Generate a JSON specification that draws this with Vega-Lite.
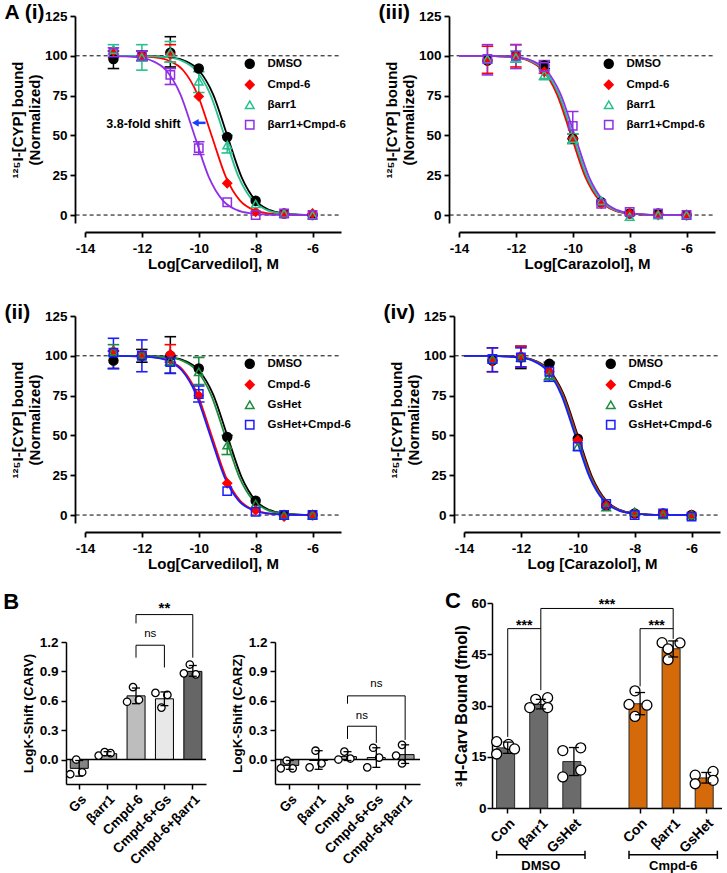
{
"$schema": "https://vega.github.io/schema/vega-lite/v6.json",
"background": "white",
"padding": {"left": 3, "top": 2, "right": 0, "bottom": 0},
"datasets": {
"pts": [
{"p":"i","s":"DMSO","x":-13,"y":98,"lo":92,"hi":103},
{"p":"i","s":"DMSO","x":-12,"y":100,"lo":97,"hi":103},
{"p":"i","s":"DMSO","x":-11,"y":102,"lo":93,"hi":112},
{"p":"i","s":"DMSO","x":-10,"y":92},
{"p":"i","s":"DMSO","x":-9,"y":49},
{"p":"i","s":"DMSO","x":-8,"y":9},
{"p":"i","s":"DMSO","x":-7,"y":1},
{"p":"i","s":"DMSO","x":-6,"y":0},
{"p":"i","s":"Cmpd-6","x":-13,"y":103},
{"p":"i","s":"Cmpd-6","x":-12,"y":100},
{"p":"i","s":"Cmpd-6","x":-11,"y":101,"lo":96,"hi":107},
{"p":"i","s":"Cmpd-6","x":-10,"y":74.5},
{"p":"i","s":"Cmpd-6","x":-9,"y":20},
{"p":"i","s":"Cmpd-6","x":-8,"y":2},
{"p":"i","s":"Cmpd-6","x":-7,"y":1},
{"p":"i","s":"Cmpd-6","x":-6,"y":1},
{"p":"i","s":"βarr1","x":-13,"y":104,"lo":101,"hi":107},
{"p":"i","s":"βarr1","x":-12,"y":99,"lo":91,"hi":107},
{"p":"i","s":"βarr1","x":-11,"y":102,"lo":96,"hi":109},
{"p":"i","s":"βarr1","x":-10,"y":84,"lo":77,"hi":90},
{"p":"i","s":"βarr1","x":-9,"y":44,"lo":39,"hi":50},
{"p":"i","s":"βarr1","x":-8,"y":7},
{"p":"i","s":"βarr1","x":-7,"y":1},
{"p":"i","s":"βarr1","x":-6,"y":0},
{"p":"i","s":"βarr1+Cmpd-6","x":-13,"y":102,"lo":99,"hi":105},
{"p":"i","s":"βarr1+Cmpd-6","x":-12,"y":100,"lo":97,"hi":103},
{"p":"i","s":"βarr1+Cmpd-6","x":-11,"y":88,"lo":82,"hi":92},
{"p":"i","s":"βarr1+Cmpd-6","x":-10,"y":42,"lo":38,"hi":46},
{"p":"i","s":"βarr1+Cmpd-6","x":-9,"y":8},
{"p":"i","s":"βarr1+Cmpd-6","x":-8,"y":0},
{"p":"i","s":"βarr1+Cmpd-6","x":-7,"y":1},
{"p":"i","s":"βarr1+Cmpd-6","x":-6,"y":0},
{"p":"iii","s":"DMSO","x":-13,"y":97},
{"p":"iii","s":"DMSO","x":-12,"y":100},
{"p":"iii","s":"DMSO","x":-11,"y":94,"lo":92,"hi":96},
{"p":"iii","s":"DMSO","x":-10,"y":48},
{"p":"iii","s":"DMSO","x":-9,"y":8},
{"p":"iii","s":"DMSO","x":-8,"y":1},
{"p":"iii","s":"DMSO","x":-7,"y":1},
{"p":"iii","s":"DMSO","x":-6,"y":0},
{"p":"iii","s":"Cmpd-6","x":-13,"y":97,"lo":89,"hi":106},
{"p":"iii","s":"Cmpd-6","x":-12,"y":100,"lo":93,"hi":107},
{"p":"iii","s":"Cmpd-6","x":-11,"y":90},
{"p":"iii","s":"Cmpd-6","x":-10,"y":48,"lo":45,"hi":51},
{"p":"iii","s":"Cmpd-6","x":-9,"y":7},
{"p":"iii","s":"Cmpd-6","x":-8,"y":1},
{"p":"iii","s":"Cmpd-6","x":-7,"y":0},
{"p":"iii","s":"Cmpd-6","x":-6,"y":0},
{"p":"iii","s":"βarr1","x":-13,"y":98},
{"p":"iii","s":"βarr1","x":-12,"y":99,"lo":96,"hi":103},
{"p":"iii","s":"βarr1","x":-11,"y":88,"lo":85,"hi":91},
{"p":"iii","s":"βarr1","x":-10,"y":48,"lo":45,"hi":51},
{"p":"iii","s":"βarr1","x":-9,"y":9},
{"p":"iii","s":"βarr1","x":-8,"y":-1},
{"p":"iii","s":"βarr1","x":-7,"y":0},
{"p":"iii","s":"βarr1","x":-6,"y":0},
{"p":"iii","s":"βarr1+Cmpd-6","x":-13,"y":98,"lo":88,"hi":107},
{"p":"iii","s":"βarr1+Cmpd-6","x":-12,"y":100,"lo":92,"hi":107},
{"p":"iii","s":"βarr1+Cmpd-6","x":-11,"y":93,"lo":89,"hi":97},
{"p":"iii","s":"βarr1+Cmpd-6","x":-10,"y":56,"lo":48,"hi":65},
{"p":"iii","s":"βarr1+Cmpd-6","x":-9,"y":7},
{"p":"iii","s":"βarr1+Cmpd-6","x":-8,"y":2},
{"p":"iii","s":"βarr1+Cmpd-6","x":-7,"y":1},
{"p":"iii","s":"βarr1+Cmpd-6","x":-6,"y":0},
{"p":"ii","s":"DMSO","x":-13,"y":97,"lo":92,"hi":103},
{"p":"ii","s":"DMSO","x":-12,"y":100,"lo":96,"hi":104},
{"p":"ii","s":"DMSO","x":-11,"y":100,"lo":89,"hi":112},
{"p":"ii","s":"DMSO","x":-10,"y":92},
{"p":"ii","s":"DMSO","x":-9,"y":49},
{"p":"ii","s":"DMSO","x":-8,"y":9},
{"p":"ii","s":"DMSO","x":-7,"y":0},
{"p":"ii","s":"DMSO","x":-6,"y":0},
{"p":"ii","s":"Cmpd-6","x":-13,"y":103},
{"p":"ii","s":"Cmpd-6","x":-12,"y":101},
{"p":"ii","s":"Cmpd-6","x":-11,"y":101,"lo":96,"hi":107},
{"p":"ii","s":"Cmpd-6","x":-10,"y":75},
{"p":"ii","s":"Cmpd-6","x":-9,"y":20},
{"p":"ii","s":"Cmpd-6","x":-8,"y":3},
{"p":"ii","s":"Cmpd-6","x":-7,"y":-1},
{"p":"ii","s":"Cmpd-6","x":-6,"y":0},
{"p":"ii","s":"GsHet","x":-13,"y":103,"lo":100,"hi":107},
{"p":"ii","s":"GsHet","x":-12,"y":101},
{"p":"ii","s":"GsHet","x":-11,"y":97,"lo":94,"hi":100},
{"p":"ii","s":"GsHet","x":-10,"y":90,"lo":82,"hi":99},
{"p":"ii","s":"GsHet","x":-9,"y":44,"lo":38,"hi":50},
{"p":"ii","s":"GsHet","x":-8,"y":7},
{"p":"ii","s":"GsHet","x":-7,"y":0},
{"p":"ii","s":"GsHet","x":-6,"y":0},
{"p":"ii","s":"GsHet+Cmpd-6","x":-13,"y":102,"lo":92,"hi":111},
{"p":"ii","s":"GsHet+Cmpd-6","x":-12,"y":100,"lo":90,"hi":110},
{"p":"ii","s":"GsHet+Cmpd-6","x":-11,"y":96,"lo":89,"hi":100},
{"p":"ii","s":"GsHet+Cmpd-6","x":-10,"y":76,"lo":71,"hi":81},
{"p":"ii","s":"GsHet+Cmpd-6","x":-9,"y":15},
{"p":"ii","s":"GsHet+Cmpd-6","x":-8,"y":2},
{"p":"ii","s":"GsHet+Cmpd-6","x":-7,"y":0},
{"p":"ii","s":"GsHet+Cmpd-6","x":-6,"y":0},
{"p":"iv","s":"DMSO","x":-13,"y":97},
{"p":"iv","s":"DMSO","x":-12,"y":99,"lo":92,"hi":106},
{"p":"iv","s":"DMSO","x":-11,"y":95},
{"p":"iv","s":"DMSO","x":-10,"y":48},
{"p":"iv","s":"DMSO","x":-9,"y":6},
{"p":"iv","s":"DMSO","x":-8,"y":1},
{"p":"iv","s":"DMSO","x":-7,"y":1},
{"p":"iv","s":"DMSO","x":-6,"y":0},
{"p":"iv","s":"Cmpd-6","x":-13,"y":97,"lo":90,"hi":105},
{"p":"iv","s":"Cmpd-6","x":-12,"y":100,"lo":93,"hi":106},
{"p":"iv","s":"Cmpd-6","x":-11,"y":90},
{"p":"iv","s":"Cmpd-6","x":-10,"y":47},
{"p":"iv","s":"Cmpd-6","x":-9,"y":6},
{"p":"iv","s":"Cmpd-6","x":-8,"y":1},
{"p":"iv","s":"Cmpd-6","x":-7,"y":1},
{"p":"iv","s":"Cmpd-6","x":-6,"y":0},
{"p":"iv","s":"GsHet","x":-13,"y":98},
{"p":"iv","s":"GsHet","x":-12,"y":99},
{"p":"iv","s":"GsHet","x":-11,"y":88,"lo":85,"hi":95},
{"p":"iv","s":"GsHet","x":-10,"y":43},
{"p":"iv","s":"GsHet","x":-9,"y":5},
{"p":"iv","s":"GsHet","x":-8,"y":2},
{"p":"iv","s":"GsHet","x":-7,"y":0},
{"p":"iv","s":"GsHet","x":-6,"y":0},
{"p":"iv","s":"GsHet+Cmpd-6","x":-13,"y":98,"lo":90,"hi":105},
{"p":"iv","s":"GsHet+Cmpd-6","x":-12,"y":99,"lo":93,"hi":105},
{"p":"iv","s":"GsHet+Cmpd-6","x":-11,"y":90,"lo":84,"hi":96},
{"p":"iv","s":"GsHet+Cmpd-6","x":-10,"y":43},
{"p":"iv","s":"GsHet+Cmpd-6","x":-9,"y":7},
{"p":"iv","s":"GsHet+Cmpd-6","x":-8,"y":0},
{"p":"iv","s":"GsHet+Cmpd-6","x":-7,"y":1},
{"p":"iv","s":"GsHet+Cmpd-6","x":-6,"y":-1}
],
"curves": [
{"p":"i","s":"DMSO","x":-13,"y":100},{"p":"i","s":"DMSO","x":-12,"y":99.9},{"p":"i","s":"DMSO","x":-11.5,"y":99.68},{"p":"i","s":"DMSO","x":-11,"y":99.01},{"p":"i","s":"DMSO","x":-10.5,"y":96.93},{"p":"i","s":"DMSO","x":-10,"y":90.91},{"p":"i","s":"DMSO","x":-9.5,"y":75.97},{"p":"i","s":"DMSO","x":-9,"y":50},{"p":"i","s":"DMSO","x":-8.5,"y":24.03},{"p":"i","s":"DMSO","x":-8,"y":9.09},{"p":"i","s":"DMSO","x":-7.5,"y":3.07},{"p":"i","s":"DMSO","x":-7,"y":0.99},{"p":"i","s":"DMSO","x":-6.5,"y":0.32},{"p":"i","s":"DMSO","x":-6,"y":0.1},
{"p":"i","s":"Cmpd-6","x":-13,"y":99.96},{"p":"i","s":"Cmpd-6","x":-12.05,"y":99.68},{"p":"i","s":"Cmpd-6","x":-11.55,"y":99.01},{"p":"i","s":"Cmpd-6","x":-11.05,"y":96.93},{"p":"i","s":"Cmpd-6","x":-10.55,"y":90.91},{"p":"i","s":"Cmpd-6","x":-10.05,"y":75.97},{"p":"i","s":"Cmpd-6","x":-9.55,"y":50},{"p":"i","s":"Cmpd-6","x":-9.05,"y":24.03},{"p":"i","s":"Cmpd-6","x":-8.55,"y":9.09},{"p":"i","s":"Cmpd-6","x":-8.05,"y":3.07},{"p":"i","s":"Cmpd-6","x":-7.55,"y":0.99},{"p":"i","s":"Cmpd-6","x":-7.05,"y":0.32},{"p":"i","s":"Cmpd-6","x":-6.55,"y":0.1},{"p":"i","s":"Cmpd-6","x":-6,"y":0.03},
{"p":"i","s":"βarr1","x":-13,"y":99.99},{"p":"i","s":"βarr1","x":-12.1,"y":99.9},{"p":"i","s":"βarr1","x":-11.6,"y":99.68},{"p":"i","s":"βarr1","x":-11.1,"y":99.01},{"p":"i","s":"βarr1","x":-10.6,"y":96.93},{"p":"i","s":"βarr1","x":-10.1,"y":90.91},{"p":"i","s":"βarr1","x":-9.6,"y":75.97},{"p":"i","s":"βarr1","x":-9.1,"y":50},{"p":"i","s":"βarr1","x":-8.6,"y":24.03},{"p":"i","s":"βarr1","x":-8.1,"y":9.09},{"p":"i","s":"βarr1","x":-7.6,"y":3.07},{"p":"i","s":"βarr1","x":-7.1,"y":0.99},{"p":"i","s":"βarr1","x":-6.6,"y":0.32},{"p":"i","s":"βarr1","x":-6,"y":0.08},
{"p":"i","s":"βarr1+Cmpd-6","x":-13,"y":99.86},{"p":"i","s":"βarr1+Cmpd-6","x":-12.65,"y":99.68},{"p":"i","s":"βarr1+Cmpd-6","x":-12.15,"y":99.01},{"p":"i","s":"βarr1+Cmpd-6","x":-11.65,"y":96.93},{"p":"i","s":"βarr1+Cmpd-6","x":-11.15,"y":90.91},{"p":"i","s":"βarr1+Cmpd-6","x":-10.65,"y":75.97},{"p":"i","s":"βarr1+Cmpd-6","x":-10.15,"y":50},{"p":"i","s":"βarr1+Cmpd-6","x":-9.65,"y":24.03},{"p":"i","s":"βarr1+Cmpd-6","x":-9.15,"y":9.09},{"p":"i","s":"βarr1+Cmpd-6","x":-8.65,"y":3.07},{"p":"i","s":"βarr1+Cmpd-6","x":-8.15,"y":0.99},{"p":"i","s":"βarr1+Cmpd-6","x":-7.65,"y":0.32},{"p":"i","s":"βarr1+Cmpd-6","x":-7.15,"y":0.1},{"p":"i","s":"βarr1+Cmpd-6","x":-6,"y":0.01},
{"p":"ii","s":"DMSO","x":-13,"y":100},{"p":"ii","s":"DMSO","x":-12,"y":99.9},{"p":"ii","s":"DMSO","x":-11.5,"y":99.68},{"p":"ii","s":"DMSO","x":-11,"y":99.01},{"p":"ii","s":"DMSO","x":-10.5,"y":96.93},{"p":"ii","s":"DMSO","x":-10,"y":90.91},{"p":"ii","s":"DMSO","x":-9.5,"y":75.97},{"p":"ii","s":"DMSO","x":-9,"y":50},{"p":"ii","s":"DMSO","x":-8.5,"y":24.03},{"p":"ii","s":"DMSO","x":-8,"y":9.09},{"p":"ii","s":"DMSO","x":-7.5,"y":3.07},{"p":"ii","s":"DMSO","x":-7,"y":0.99},{"p":"ii","s":"DMSO","x":-6.5,"y":0.32},{"p":"ii","s":"DMSO","x":-6,"y":0.1},
{"p":"ii","s":"Cmpd-6","x":-13,"y":99.96},{"p":"ii","s":"Cmpd-6","x":-12.05,"y":99.68},{"p":"ii","s":"Cmpd-6","x":-11.55,"y":99.01},{"p":"ii","s":"Cmpd-6","x":-11.05,"y":96.93},{"p":"ii","s":"Cmpd-6","x":-10.55,"y":90.91},{"p":"ii","s":"Cmpd-6","x":-10.05,"y":75.97},{"p":"ii","s":"Cmpd-6","x":-9.55,"y":50},{"p":"ii","s":"Cmpd-6","x":-9.05,"y":24.03},{"p":"ii","s":"Cmpd-6","x":-8.55,"y":9.09},{"p":"ii","s":"Cmpd-6","x":-8.05,"y":3.07},{"p":"ii","s":"Cmpd-6","x":-7.55,"y":0.99},{"p":"ii","s":"Cmpd-6","x":-7.05,"y":0.32},{"p":"ii","s":"Cmpd-6","x":-6.55,"y":0.1},{"p":"ii","s":"Cmpd-6","x":-6,"y":0.03},
{"p":"ii","s":"GsHet","x":-13,"y":99.99},{"p":"ii","s":"GsHet","x":-12.08,"y":99.9},{"p":"ii","s":"GsHet","x":-11.58,"y":99.68},{"p":"ii","s":"GsHet","x":-11.08,"y":99.01},{"p":"ii","s":"GsHet","x":-10.58,"y":96.93},{"p":"ii","s":"GsHet","x":-10.08,"y":90.91},{"p":"ii","s":"GsHet","x":-9.58,"y":75.97},{"p":"ii","s":"GsHet","x":-9.08,"y":50},{"p":"ii","s":"GsHet","x":-8.58,"y":24.03},{"p":"ii","s":"GsHet","x":-8.08,"y":9.09},{"p":"ii","s":"GsHet","x":-7.58,"y":3.07},{"p":"ii","s":"GsHet","x":-7.08,"y":0.99},{"p":"ii","s":"GsHet","x":-6.58,"y":0.32},{"p":"ii","s":"GsHet","x":-6,"y":0.08},
{"p":"ii","s":"GsHet+Cmpd-6","x":-13,"y":99.96},{"p":"ii","s":"GsHet+Cmpd-6","x":-12.1,"y":99.68},{"p":"ii","s":"GsHet+Cmpd-6","x":-11.6,"y":99.01},{"p":"ii","s":"GsHet+Cmpd-6","x":-11.1,"y":96.93},{"p":"ii","s":"GsHet+Cmpd-6","x":-10.6,"y":90.91},{"p":"ii","s":"GsHet+Cmpd-6","x":-10.1,"y":75.97},{"p":"ii","s":"GsHet+Cmpd-6","x":-9.6,"y":50},{"p":"ii","s":"GsHet+Cmpd-6","x":-9.1,"y":24.03},{"p":"ii","s":"GsHet+Cmpd-6","x":-8.6,"y":9.09},{"p":"ii","s":"GsHet+Cmpd-6","x":-8.1,"y":3.07},{"p":"ii","s":"GsHet+Cmpd-6","x":-7.6,"y":0.99},{"p":"ii","s":"GsHet+Cmpd-6","x":-7.1,"y":0.32},{"p":"ii","s":"GsHet+Cmpd-6","x":-6.6,"y":0.1},{"p":"ii","s":"GsHet+Cmpd-6","x":-6,"y":0.03},
{"p":"iii","s":"DMSO","x":-14,"y":99.99},{"p":"iii","s":"DMSO","x":-13,"y":99.9},{"p":"iii","s":"DMSO","x":-12.52,"y":99.68},{"p":"iii","s":"DMSO","x":-12.02,"y":99.01},{"p":"iii","s":"DMSO","x":-11.52,"y":96.93},{"p":"iii","s":"DMSO","x":-11.02,"y":90.91},{"p":"iii","s":"DMSO","x":-10.52,"y":75.97},{"p":"iii","s":"DMSO","x":-10.02,"y":50},{"p":"iii","s":"DMSO","x":-9.52,"y":24.03},{"p":"iii","s":"DMSO","x":-9.02,"y":9.09},{"p":"iii","s":"DMSO","x":-8.52,"y":3.07},{"p":"iii","s":"DMSO","x":-8.02,"y":0.99},{"p":"iii","s":"DMSO","x":-7.52,"y":0.32},{"p":"iii","s":"DMSO","x":-7.02,"y":0.1},{"p":"iii","s":"DMSO","x":-6,"y":0.01},
{"p":"iii","s":"Cmpd-6","x":-14,"y":99.99},{"p":"iii","s":"Cmpd-6","x":-13,"y":99.9},{"p":"iii","s":"Cmpd-6","x":-12.56,"y":99.68},{"p":"iii","s":"Cmpd-6","x":-12.06,"y":99.01},{"p":"iii","s":"Cmpd-6","x":-11.56,"y":96.93},{"p":"iii","s":"Cmpd-6","x":-11.06,"y":90.91},{"p":"iii","s":"Cmpd-6","x":-10.56,"y":75.97},{"p":"iii","s":"Cmpd-6","x":-10.06,"y":50},{"p":"iii","s":"Cmpd-6","x":-9.56,"y":24.03},{"p":"iii","s":"Cmpd-6","x":-9.06,"y":9.09},{"p":"iii","s":"Cmpd-6","x":-8.56,"y":3.07},{"p":"iii","s":"Cmpd-6","x":-8.06,"y":0.99},{"p":"iii","s":"Cmpd-6","x":-7.56,"y":0.32},{"p":"iii","s":"Cmpd-6","x":-7.06,"y":0.1},{"p":"iii","s":"Cmpd-6","x":-6,"y":0.01},
{"p":"iii","s":"βarr1","x":-14,"y":99.99},{"p":"iii","s":"βarr1","x":-13,"y":99.9},{"p":"iii","s":"βarr1","x":-12.5,"y":99.68},{"p":"iii","s":"βarr1","x":-12,"y":99.01},{"p":"iii","s":"βarr1","x":-11.5,"y":96.93},{"p":"iii","s":"βarr1","x":-11,"y":90.91},{"p":"iii","s":"βarr1","x":-10.5,"y":75.97},{"p":"iii","s":"βarr1","x":-10,"y":50},{"p":"iii","s":"βarr1","x":-9.5,"y":24.03},{"p":"iii","s":"βarr1","x":-9,"y":9.09},{"p":"iii","s":"βarr1","x":-8.5,"y":3.07},{"p":"iii","s":"βarr1","x":-8,"y":0.99},{"p":"iii","s":"βarr1","x":-7.5,"y":0.32},{"p":"iii","s":"βarr1","x":-7,"y":0.1},{"p":"iii","s":"βarr1","x":-6,"y":0.01},
{"p":"iii","s":"βarr1+Cmpd-6","x":-14,"y":99.99},{"p":"iii","s":"βarr1+Cmpd-6","x":-13,"y":99.91},{"p":"iii","s":"βarr1+Cmpd-6","x":-12.43,"y":99.68},{"p":"iii","s":"βarr1+Cmpd-6","x":-11.93,"y":99.01},{"p":"iii","s":"βarr1+Cmpd-6","x":-11.43,"y":96.93},{"p":"iii","s":"βarr1+Cmpd-6","x":-10.93,"y":90.91},{"p":"iii","s":"βarr1+Cmpd-6","x":-10.43,"y":75.97},{"p":"iii","s":"βarr1+Cmpd-6","x":-9.93,"y":50},{"p":"iii","s":"βarr1+Cmpd-6","x":-9.43,"y":24.03},{"p":"iii","s":"βarr1+Cmpd-6","x":-8.93,"y":9.09},{"p":"iii","s":"βarr1+Cmpd-6","x":-8.43,"y":3.07},{"p":"iii","s":"βarr1+Cmpd-6","x":-7.93,"y":0.99},{"p":"iii","s":"βarr1+Cmpd-6","x":-7.43,"y":0.32},{"p":"iii","s":"βarr1+Cmpd-6","x":-6.93,"y":0.1},{"p":"iii","s":"βarr1+Cmpd-6","x":-6,"y":0.01},
{"p":"iv","s":"DMSO","x":-14,"y":99.99},{"p":"iv","s":"DMSO","x":-13,"y":99.9},{"p":"iv","s":"DMSO","x":-12.5,"y":99.68},{"p":"iv","s":"DMSO","x":-12,"y":99.01},{"p":"iv","s":"DMSO","x":-11.5,"y":96.93},{"p":"iv","s":"DMSO","x":-11,"y":90.91},{"p":"iv","s":"DMSO","x":-10.5,"y":75.97},{"p":"iv","s":"DMSO","x":-10,"y":50},{"p":"iv","s":"DMSO","x":-9.5,"y":24.03},{"p":"iv","s":"DMSO","x":-9,"y":9.09},{"p":"iv","s":"DMSO","x":-8.5,"y":3.07},{"p":"iv","s":"DMSO","x":-8,"y":0.99},{"p":"iv","s":"DMSO","x":-7.5,"y":0.32},{"p":"iv","s":"DMSO","x":-7,"y":0.1},{"p":"iv","s":"DMSO","x":-6,"y":0.01},
{"p":"iv","s":"Cmpd-6","x":-14,"y":99.99},{"p":"iv","s":"Cmpd-6","x":-13,"y":99.9},{"p":"iv","s":"Cmpd-6","x":-12.53,"y":99.68},{"p":"iv","s":"Cmpd-6","x":-12.03,"y":99.01},{"p":"iv","s":"Cmpd-6","x":-11.53,"y":96.93},{"p":"iv","s":"Cmpd-6","x":-11.03,"y":90.91},{"p":"iv","s":"Cmpd-6","x":-10.53,"y":75.97},{"p":"iv","s":"Cmpd-6","x":-10.03,"y":50},{"p":"iv","s":"Cmpd-6","x":-9.53,"y":24.03},{"p":"iv","s":"Cmpd-6","x":-9.03,"y":9.09},{"p":"iv","s":"Cmpd-6","x":-8.53,"y":3.07},{"p":"iv","s":"Cmpd-6","x":-8.03,"y":0.99},{"p":"iv","s":"Cmpd-6","x":-7.53,"y":0.32},{"p":"iv","s":"Cmpd-6","x":-7.03,"y":0.1},{"p":"iv","s":"Cmpd-6","x":-6,"y":0.01},
{"p":"iv","s":"GsHet","x":-14,"y":99.99},{"p":"iv","s":"GsHet","x":-13,"y":99.9},{"p":"iv","s":"GsHet","x":-12.56,"y":99.68},{"p":"iv","s":"GsHet","x":-12.06,"y":99.01},{"p":"iv","s":"GsHet","x":-11.56,"y":96.93},{"p":"iv","s":"GsHet","x":-11.06,"y":90.91},{"p":"iv","s":"GsHet","x":-10.56,"y":75.97},{"p":"iv","s":"GsHet","x":-10.06,"y":50},{"p":"iv","s":"GsHet","x":-9.56,"y":24.03},{"p":"iv","s":"GsHet","x":-9.06,"y":9.09},{"p":"iv","s":"GsHet","x":-8.56,"y":3.07},{"p":"iv","s":"GsHet","x":-8.06,"y":0.99},{"p":"iv","s":"GsHet","x":-7.56,"y":0.32},{"p":"iv","s":"GsHet","x":-7.06,"y":0.1},{"p":"iv","s":"GsHet","x":-6,"y":0.01},
{"p":"iv","s":"GsHet+Cmpd-6","x":-14,"y":99.99},{"p":"iv","s":"GsHet+Cmpd-6","x":-13,"y":99.9},{"p":"iv","s":"GsHet+Cmpd-6","x":-12.59,"y":99.68},{"p":"iv","s":"GsHet+Cmpd-6","x":-12.09,"y":99.01},{"p":"iv","s":"GsHet+Cmpd-6","x":-11.59,"y":96.93},{"p":"iv","s":"GsHet+Cmpd-6","x":-11.09,"y":90.91},{"p":"iv","s":"GsHet+Cmpd-6","x":-10.59,"y":75.97},{"p":"iv","s":"GsHet+Cmpd-6","x":-10.09,"y":50},{"p":"iv","s":"GsHet+Cmpd-6","x":-9.59,"y":24.03},{"p":"iv","s":"GsHet+Cmpd-6","x":-9.09,"y":9.09},{"p":"iv","s":"GsHet+Cmpd-6","x":-8.59,"y":3.07},{"p":"iv","s":"GsHet+Cmpd-6","x":-8.09,"y":0.99},{"p":"iv","s":"GsHet+Cmpd-6","x":-7.59,"y":0.32},{"p":"iv","s":"GsHet+Cmpd-6","x":-7.09,"y":0.1},{"p":"iv","s":"GsHet+Cmpd-6","x":-6,"y":0.01}
],
"bbar": [
{"p":"L","c":"Gs","v":-0.09,"lo":-0.17,"hi":-0.01},
{"p":"L","c":"βarr1","v":0.06,"lo":0.04,"hi":0.08},
{"p":"L","c":"Cmpd-6","v":0.65,"lo":0.57,"hi":0.73},
{"p":"L","c":"Cmpd-6+Gs","v":0.62,"lo":0.55,"hi":0.69},
{"p":"L","c":"Cmpd-6+βarr1","v":0.9,"lo":0.85,"hi":0.96},
{"p":"R","c":"Gs","v":-0.06,"lo":-0.1,"hi":-0.01},
{"p":"R","c":"βarr1","v":-0.01,"lo":-0.1,"hi":0.09},
{"p":"R","c":"Cmpd-6","v":0.03,"lo":-0.01,"hi":0.08},
{"p":"R","c":"Cmpd-6+Gs","v":0.02,"lo":-0.08,"hi":0.12},
{"p":"R","c":"Cmpd-6+βarr1","v":0.05,"lo":-0.04,"hi":0.15}
],
"bdots": [
{"p":"L","c":"Gs","k":2,"v":0.0},{"p":"L","c":"Gs","k":1,"v":-0.15},{"p":"L","c":"Gs","k":3,"v":-0.13},
{"p":"L","c":"βarr1","k":1,"v":0.04},{"p":"L","c":"βarr1","k":2,"v":0.075},{"p":"L","c":"βarr1","k":3,"v":0.065},
{"p":"L","c":"Cmpd-6","k":2,"v":0.74},{"p":"L","c":"Cmpd-6","k":1,"v":0.59},{"p":"L","c":"Cmpd-6","k":3,"v":0.61},
{"p":"L","c":"Cmpd-6+Gs","k":1,"v":0.68},{"p":"L","c":"Cmpd-6+Gs","k":3,"v":0.66},{"p":"L","c":"Cmpd-6+Gs","k":2,"v":0.53},
{"p":"L","c":"Cmpd-6+βarr1","k":2,"v":0.97},{"p":"L","c":"Cmpd-6+βarr1","k":1,"v":0.88},{"p":"L","c":"Cmpd-6+βarr1","k":3,"v":0.87},
{"p":"R","c":"Gs","k":2,"v":-0.01},{"p":"R","c":"Gs","k":1,"v":-0.09},{"p":"R","c":"Gs","k":3,"v":-0.09},
{"p":"R","c":"βarr1","k":2,"v":0.09},{"p":"R","c":"βarr1","k":1,"v":-0.08},{"p":"R","c":"βarr1","k":3,"v":-0.04},
{"p":"R","c":"Cmpd-6","k":2,"v":0.08},{"p":"R","c":"Cmpd-6","k":1,"v":0.0},{"p":"R","c":"Cmpd-6","k":3,"v":0.01},
{"p":"R","c":"Cmpd-6+Gs","k":2,"v":0.12},{"p":"R","c":"Cmpd-6+Gs","k":1,"v":-0.08},{"p":"R","c":"Cmpd-6+Gs","k":3,"v":0.02},
{"p":"R","c":"Cmpd-6+βarr1","k":2,"v":0.15},{"p":"R","c":"Cmpd-6+βarr1","k":1,"v":0.04},{"p":"R","c":"Cmpd-6+βarr1","k":2,"v":-0.04}
],
"cbar": [
{"c":"Con|D","g":"DMSO","v":17.6,"lo":16.0,"hi":19.3},
{"c":"βarr1|D","g":"DMSO","v":30.3,"lo":29.0,"hi":31.8},
{"c":"GsHet|D","g":"DMSO","v":13.6,"lo":9.5,"hi":17.7},
{"c":"Con|C","g":"Cmpd-6","v":30.5,"lo":27.3,"hi":33.8},
{"c":"βarr1|C","g":"Cmpd-6","v":46.6,"lo":44.2,"hi":48.9},
{"c":"GsHet|C","g":"Cmpd-6","v":8.8,"lo":7.3,"hi":10.4}
],
"cdots": [
{"c":"Con|D","k":1,"v":19.4},{"c":"Con|D","k":3,"v":18.6},{"c":"Con|D","k":4,"v":17.3},{"c":"Con|D","k":1,"v":15.8},
{"c":"βarr1|D","k":2,"v":31.8},{"c":"βarr1|D","k":4,"v":32.3},{"c":"βarr1|D","k":1,"v":29.4},{"c":"βarr1|D","k":4,"v":29.4},
{"c":"GsHet|D","k":1,"v":16.8},{"c":"GsHet|D","k":4,"v":17.6},{"c":"GsHet|D","k":4,"v":11.1},{"c":"GsHet|D","k":1,"v":9.1},
{"c":"Con|C","k":2,"v":34.3},{"c":"Con|C","k":1,"v":30.3},{"c":"Con|C","k":4,"v":30.1},{"c":"Con|C","k":2,"v":26.8},
{"c":"βarr1|C","k":1,"v":48.4},{"c":"βarr1|C","k":4,"v":48.3},{"c":"βarr1|C","k":2,"v":46.6},{"c":"βarr1|C","k":2,"v":43.4},
{"c":"GsHet|C","k":1,"v":9.6},{"c":"GsHet|C","k":4,"v":10.7},{"c":"GsHet|C","k":4,"v":8.1},{"c":"GsHet|C","k":1,"v":7.1}
],
"sig": [
{"q":"L","x":"Cmpd-6","x2":"Cmpd-6+Gs","y":1.167,"y2":1.167},
{"q":"L","x":"Cmpd-6","x2":"Cmpd-6","y":1.167,"y2":1.04},
{"q":"L","x":"Cmpd-6+Gs","x2":"Cmpd-6+Gs","y":1.167,"y2":0.94},
{"q":"L","x":"Cmpd-6","x2":"Cmpd-6+βarr1","y":1.48,"y2":1.48},
{"q":"L","x":"Cmpd-6","x2":"Cmpd-6","y":1.48,"y2":1.39},
{"q":"L","x":"Cmpd-6+βarr1","x2":"Cmpd-6+βarr1","y":1.48,"y2":1.04},
{"q":"R","x":"Cmpd-6","x2":"Cmpd-6+Gs","y":0.34,"y2":0.34},
{"q":"R","x":"Cmpd-6","x2":"Cmpd-6","y":0.34,"y2":0.21},
{"q":"R","x":"Cmpd-6+Gs","x2":"Cmpd-6+Gs","y":0.34,"y2":0.17},
{"q":"R","x":"Cmpd-6","x2":"Cmpd-6+βarr1","y":0.65,"y2":0.65},
{"q":"R","x":"Cmpd-6","x2":"Cmpd-6","y":0.65,"y2":0.57},
{"q":"R","x":"Cmpd-6+βarr1","x2":"Cmpd-6+βarr1","y":0.65,"y2":0.2},
{"q":"C","x":"Con|D","x2":"βarr1|D","y":52.5,"y2":52.5},
{"q":"C","x":"Con|D","x2":"Con|D","y":52.5,"y2":20.8},
{"q":"C","x":"βarr1|D","x2":"βarr1|D","y":58.4,"y2":34.5},
{"q":"C","x":"βarr1|D","x2":"βarr1|C","y":58.4,"y2":58.4},
{"q":"C","x":"βarr1|C","x2":"βarr1|C","y":58.4,"y2":49.5},
{"q":"C","x":"Con|C","x2":"βarr1|C","y":52.5,"y2":52.5},
{"q":"C","x":"Con|C","x2":"Con|C","y":52.5,"y2":35.6}
],
"sigt": [
{"q":"L","w":"mid","x":"Cmpd-6","y":1.25,"t":"ns"},
{"q":"L","w":"ctr","x":"Cmpd-6+Gs","y":1.495,"t":"**"},
{"q":"R","w":"mid","x":"Cmpd-6","y":0.41,"t":"ns"},
{"q":"R","w":"ctr","x":"Cmpd-6+Gs","y":0.74,"t":"ns"},
{"q":"C","w":"mid","x":"Con|D","y":52.2,"t":"***"},
{"q":"C","w":"ctr","x":"gap","y":58.1,"t":"***"},
{"q":"C","w":"mid","x":"Con|C","y":52.2,"t":"***"}
],
"grp": [
{"g":"DMSO","a":"Con|D","b":"GsHet|D","m":"βarr1|D"},
{"g":"Cmpd-6","a":"Con|C","b":"GsHet|C","m":"βarr1|C"}
]
},
"spacing": 18,
"resolve": {"scale": {"color": "independent", "stroke": "independent", "fill": "independent", "shape": "independent", "size": "independent"}},
"vconcat": [
{
"spacing": 30,
"resolve": {"scale": {"color": "independent", "stroke": "independent", "fill": "independent", "shape": "independent", "size": "independent"}},
"vconcat": [
{
"spacing": 32,
"resolve": {"scale": {"color": "independent", "stroke": "independent", "fill": "independent", "shape": "independent", "size": "independent"}},
"hconcat": [
{
"width": 275, "height": 207,
"title": {"text": "A (i)", "offset": -14, "dx": -6},
"layer": [
{"data": {"values": [{"h": 0}, {"h": 100}]}, "mark": {"type": "rule", "strokeDash": [4, 3], "strokeWidth": 1, "color": "black"},
 "encoding": {"x": {"datum": -14.33, "type": "quantitative"}, "x2": {"datum": -5}, "y": {"field": "h", "type": "quantitative"}}},
{"data": {"name": "curves"}, "transform": [{"filter": "datum.p == 'i'"}], "mark": {"type": "line", "interpolate": "monotone", "strokeWidth": 1.8},
 "encoding": {"x": {"field": "x", "type": "quantitative"}, "y": {"field": "y", "type": "quantitative"},
  "color": {"field": "s", "type": "nominal", "scale": {"domain": ["DMSO", "Cmpd-6", "βarr1", "βarr1+Cmpd-6"], "range": ["#000000", "#ff0000", "#26c08f", "#8f2fe6"]}}}},
{"data": {"name": "pts"}, "transform": [{"filter": "datum.p == 'i' && isValid(datum.lo)"}], "mark": {"type": "rule", "strokeWidth": 1.5},
 "encoding": {"x": {"field": "x", "type": "quantitative"}, "y": {"field": "lo", "type": "quantitative"}, "y2": {"field": "hi"}, "color": {"field": "s", "type": "nominal"}}},
{"data": {"name": "pts"}, "transform": [{"filter": "datum.p == 'i' && isValid(datum.lo)"}], "mark": {"type": "tick", "orient": "horizontal", "size": 10, "thickness": 0.1, "strokeWidth": 1.5, "filled": false, "opacity": 1},
 "encoding": {"x": {"field": "x", "type": "quantitative"}, "y": {"field": "lo", "type": "quantitative"}, "color": {"field": "s", "type": "nominal"}}},
{"data": {"name": "pts"}, "transform": [{"filter": "datum.p == 'i' && isValid(datum.lo)"}], "mark": {"type": "tick", "orient": "horizontal", "size": 10, "thickness": 0.1, "strokeWidth": 1.5, "filled": false, "opacity": 1},
 "encoding": {"x": {"field": "x", "type": "quantitative"}, "y": {"field": "hi", "type": "quantitative"}, "color": {"field": "s", "type": "nominal"}}},
{"data": {"name": "pts"}, "transform": [{"filter": "datum.p == 'i'"}], "mark": {"type": "point", "strokeWidth": 1.5, "opacity": 1, "filled": false},
 "encoding": {
  "x": {"field": "x", "type": "quantitative", "scale": {"domain": [-14, -5], "range": [19, 275], "nice": false, "zero": false}, "axis": {"values": [-14, -13, -12, -11, -10, -9, -8, -7, -6, -5], "labelExpr": "'' + datum.value", "title": "Log[Carvedilol], M", "offset": 9, "labelFlush": false, "labelOverlap": false, "labelPadding": 4, "titlePadding": 2}},
  "y": {"field": "y", "type": "quantitative", "scale": {"domain": [-5, 125], "nice": false, "zero": false}, "axis": {"values": [0, 25, 50, 75, 100, 125], "offset": -9, "title": ["¹²⁵I-[CYP] bound", "(Normalized)"], "titleLineHeight": 17, "titlePadding": 2}},
  "color": {"field": "s", "type": "nominal", "scale": {"domain": ["DMSO", "Cmpd-6", "βarr1", "βarr1+Cmpd-6"], "range": ["#000000", "#ff0000", "#26c08f", "#8f2fe6"]}, "legend": {"orient": "none", "legendX": 178, "legendY": 42, "title": null, "padding": 0, "labelFontSize": 11.5, "labelFontWeight": "bold", "labelColor": "black", "symbolStrokeWidth": 1.5, "rowPadding": 5, "labelOffset": 12}},
  "fill": {"field": "s", "type": "nominal", "scale": {"domain": ["DMSO", "Cmpd-6", "βarr1", "βarr1+Cmpd-6"], "range": ["#000000", "#ff0000", "transparent", "transparent"]}, "legend": {"orient": "none", "legendX": 178, "legendY": 42, "title": null, "padding": 0, "labelFontSize": 11.5, "labelFontWeight": "bold", "labelColor": "black", "symbolStrokeWidth": 1.5, "rowPadding": 5, "labelOffset": 12}},
  "shape": {"field": "s", "type": "nominal", "scale": {"domain": ["DMSO", "Cmpd-6", "βarr1", "βarr1+Cmpd-6"], "range": ["circle", "diamond", "triangle-up", "square"]}, "legend": {"orient": "none", "legendX": 178, "legendY": 42, "title": null, "padding": 0, "labelFontSize": 11.5, "labelFontWeight": "bold", "labelColor": "black", "symbolStrokeWidth": 1.5, "rowPadding": 5, "labelOffset": 12}},
  "size": {"field": "s", "type": "nominal", "scale": {"domain": ["DMSO", "Cmpd-6", "βarr1", "βarr1+Cmpd-6"], "range": [80, 70, 115, 145]}, "legend": {"orient": "none", "legendX": 178, "legendY": 42, "title": null, "padding": 0, "labelFontSize": 11.5, "labelFontWeight": "bold", "labelColor": "black", "symbolStrokeWidth": 1.5, "rowPadding": 5, "labelOffset": 12}}}},
{"data": {"values": [{}]}, "mark": {"type": "rule", "color": "#1a3cff", "strokeWidth": 2.5},
 "encoding": {"x": {"datum": -9.76, "type": "quantitative"}, "x2": {"datum": -10.1}, "y": {"datum": 57.9, "type": "quantitative"}}},
{"data": {"values": [{}]}, "mark": {"type": "point", "shape": "triangle-left", "filled": true, "color": "#1a3cff", "size": 60, "opacity": 1},
 "encoding": {"x": {"datum": -10.12, "type": "quantitative"}, "y": {"datum": 57.9, "type": "quantitative"}}},
{"data": {"values": [{"t": "3.8-fold shift"}]}, "mark": {"type": "text", "align": "right", "baseline": "middle", "fontSize": 12.5, "fontWeight": "bold"},
 "encoding": {"x": {"datum": -10.64, "type": "quantitative"}, "y": {"datum": 57, "type": "quantitative"}, "text": {"field": "t"}}}
]
},
{
"width": 275, "height": 207,
"title": {"text": "(iii)", "offset": -14, "dx": -6},
"layer": [
{"data": {"values": [{"h": 0}, {"h": 100}]}, "mark": {"type": "rule", "strokeDash": [4, 3], "strokeWidth": 1, "color": "black"},
 "encoding": {"x": {"datum": -14.33, "type": "quantitative"}, "x2": {"datum": -5}, "y": {"field": "h", "type": "quantitative"}}},
{"data": {"name": "curves"}, "transform": [{"filter": "datum.p == 'iii'"}], "mark": {"type": "line", "interpolate": "monotone", "strokeWidth": 1.8},
 "encoding": {"x": {"field": "x", "type": "quantitative"}, "y": {"field": "y", "type": "quantitative"},
  "color": {"field": "s", "type": "nominal", "scale": {"domain": ["DMSO", "Cmpd-6", "βarr1", "βarr1+Cmpd-6"], "range": ["#000000", "#ff0000", "#26c08f", "#8f2fe6"]}}}},
{"data": {"name": "pts"}, "transform": [{"filter": "datum.p == 'iii' && isValid(datum.lo)"}], "mark": {"type": "rule", "strokeWidth": 1.5},
 "encoding": {"x": {"field": "x", "type": "quantitative"}, "y": {"field": "lo", "type": "quantitative"}, "y2": {"field": "hi"}, "color": {"field": "s", "type": "nominal"}}},
{"data": {"name": "pts"}, "transform": [{"filter": "datum.p == 'iii' && isValid(datum.lo)"}], "mark": {"type": "tick", "orient": "horizontal", "size": 10, "thickness": 0.1, "strokeWidth": 1.5, "filled": false, "opacity": 1},
 "encoding": {"x": {"field": "x", "type": "quantitative"}, "y": {"field": "lo", "type": "quantitative"}, "color": {"field": "s", "type": "nominal"}}},
{"data": {"name": "pts"}, "transform": [{"filter": "datum.p == 'iii' && isValid(datum.lo)"}], "mark": {"type": "tick", "orient": "horizontal", "size": 10, "thickness": 0.1, "strokeWidth": 1.5, "filled": false, "opacity": 1},
 "encoding": {"x": {"field": "x", "type": "quantitative"}, "y": {"field": "hi", "type": "quantitative"}, "color": {"field": "s", "type": "nominal"}}},
{"data": {"name": "pts"}, "transform": [{"filter": "datum.p == 'iii'"}], "mark": {"type": "point", "strokeWidth": 1.5, "opacity": 1, "filled": false},
 "encoding": {
  "x": {"field": "x", "type": "quantitative", "scale": {"domain": [-14, -5], "range": [19, 275], "nice": false, "zero": false}, "axis": {"values": [-14, -13, -12, -11, -10, -9, -8, -7, -6, -5], "labelExpr": "'' + datum.value", "title": "Log[Carazolol], M", "offset": 9, "labelFlush": false, "labelOverlap": false, "labelPadding": 4, "titlePadding": 2}},
  "y": {"field": "y", "type": "quantitative", "scale": {"domain": [-5, 125], "nice": false, "zero": false}, "axis": {"values": [0, 25, 50, 75, 100, 125], "offset": -9, "title": ["¹²⁵I-[CYP] bound", "(Normalized)"], "titleLineHeight": 17, "titlePadding": 2}},
  "color": {"field": "s", "type": "nominal", "scale": {"domain": ["DMSO", "Cmpd-6", "βarr1", "βarr1+Cmpd-6"], "range": ["#000000", "#ff0000", "#26c08f", "#8f2fe6"]}, "legend": {"orient": "none", "legendX": 163, "legendY": 42, "title": null, "padding": 0, "labelFontSize": 11.5, "labelFontWeight": "bold", "labelColor": "black", "symbolStrokeWidth": 1.5, "rowPadding": 5, "labelOffset": 12}},
  "fill": {"field": "s", "type": "nominal", "scale": {"domain": ["DMSO", "Cmpd-6", "βarr1", "βarr1+Cmpd-6"], "range": ["#000000", "#ff0000", "transparent", "transparent"]}, "legend": {"orient": "none", "legendX": 163, "legendY": 42, "title": null, "padding": 0, "labelFontSize": 11.5, "labelFontWeight": "bold", "labelColor": "black", "symbolStrokeWidth": 1.5, "rowPadding": 5, "labelOffset": 12}},
  "shape": {"field": "s", "type": "nominal", "scale": {"domain": ["DMSO", "Cmpd-6", "βarr1", "βarr1+Cmpd-6"], "range": ["circle", "diamond", "triangle-up", "square"]}, "legend": {"orient": "none", "legendX": 163, "legendY": 42, "title": null, "padding": 0, "labelFontSize": 11.5, "labelFontWeight": "bold", "labelColor": "black", "symbolStrokeWidth": 1.5, "rowPadding": 5, "labelOffset": 12}},
  "size": {"field": "s", "type": "nominal", "scale": {"domain": ["DMSO", "Cmpd-6", "βarr1", "βarr1+Cmpd-6"], "range": [80, 70, 115, 145]}, "legend": {"orient": "none", "legendX": 163, "legendY": 42, "title": null, "padding": 0, "labelFontSize": 11.5, "labelFontWeight": "bold", "labelColor": "black", "symbolStrokeWidth": 1.5, "rowPadding": 5, "labelOffset": 12}}}}
]
}
]
},
{
"spacing": 32,
"resolve": {"scale": {"color": "independent", "stroke": "independent", "fill": "independent", "shape": "independent", "size": "independent"}},
"hconcat": [
{
"width": 275, "height": 207,
"title": {"text": "(ii)", "offset": -14, "dx": -6},
"layer": [
{"data": {"values": [{"h": 0}, {"h": 100}]}, "mark": {"type": "rule", "strokeDash": [4, 3], "strokeWidth": 1, "color": "black"},
 "encoding": {"x": {"datum": -14.33, "type": "quantitative"}, "x2": {"datum": -5}, "y": {"field": "h", "type": "quantitative"}}},
{"data": {"name": "curves"}, "transform": [{"filter": "datum.p == 'ii'"}], "mark": {"type": "line", "interpolate": "monotone", "strokeWidth": 1.8},
 "encoding": {"x": {"field": "x", "type": "quantitative"}, "y": {"field": "y", "type": "quantitative"},
  "color": {"field": "s", "type": "nominal", "scale": {"domain": ["DMSO", "Cmpd-6", "GsHet", "GsHet+Cmpd-6"], "range": ["#000000", "#ff0000", "#1e8c3c", "#1c1cff"]}}}},
{"data": {"name": "pts"}, "transform": [{"filter": "datum.p == 'ii' && isValid(datum.lo)"}], "mark": {"type": "rule", "strokeWidth": 1.5},
 "encoding": {"x": {"field": "x", "type": "quantitative"}, "y": {"field": "lo", "type": "quantitative"}, "y2": {"field": "hi"}, "color": {"field": "s", "type": "nominal"}}},
{"data": {"name": "pts"}, "transform": [{"filter": "datum.p == 'ii' && isValid(datum.lo)"}], "mark": {"type": "tick", "orient": "horizontal", "size": 10, "thickness": 0.1, "strokeWidth": 1.5, "filled": false, "opacity": 1},
 "encoding": {"x": {"field": "x", "type": "quantitative"}, "y": {"field": "lo", "type": "quantitative"}, "color": {"field": "s", "type": "nominal"}}},
{"data": {"name": "pts"}, "transform": [{"filter": "datum.p == 'ii' && isValid(datum.lo)"}], "mark": {"type": "tick", "orient": "horizontal", "size": 10, "thickness": 0.1, "strokeWidth": 1.5, "filled": false, "opacity": 1},
 "encoding": {"x": {"field": "x", "type": "quantitative"}, "y": {"field": "hi", "type": "quantitative"}, "color": {"field": "s", "type": "nominal"}}},
{"data": {"name": "pts"}, "transform": [{"filter": "datum.p == 'ii'"}], "mark": {"type": "point", "strokeWidth": 1.5, "opacity": 1, "filled": false},
 "encoding": {
  "x": {"field": "x", "type": "quantitative", "scale": {"domain": [-14, -5], "range": [19, 275], "nice": false, "zero": false}, "axis": {"values": [-14, -13, -12, -11, -10, -9, -8, -7, -6, -5], "labelExpr": "'' + datum.value", "title": "Log[Carvedilol], M", "offset": 9, "labelFlush": false, "labelOverlap": false, "labelPadding": 4, "titlePadding": 2}},
  "y": {"field": "y", "type": "quantitative", "scale": {"domain": [-5, 125], "nice": false, "zero": false}, "axis": {"values": [0, 25, 50, 75, 100, 125], "offset": -9, "title": ["¹²⁵I-[CYP] bound", "(Normalized)"], "titleLineHeight": 17, "titlePadding": 2}},
  "color": {"field": "s", "type": "nominal", "scale": {"domain": ["DMSO", "Cmpd-6", "GsHet", "GsHet+Cmpd-6"], "range": ["#000000", "#ff0000", "#1e8c3c", "#1c1cff"]}, "legend": {"orient": "none", "legendX": 178, "legendY": 42, "title": null, "padding": 0, "labelFontSize": 11.5, "labelFontWeight": "bold", "labelColor": "black", "symbolStrokeWidth": 1.5, "rowPadding": 5, "labelOffset": 12}},
  "fill": {"field": "s", "type": "nominal", "scale": {"domain": ["DMSO", "Cmpd-6", "GsHet", "GsHet+Cmpd-6"], "range": ["#000000", "#ff0000", "transparent", "transparent"]}, "legend": {"orient": "none", "legendX": 178, "legendY": 42, "title": null, "padding": 0, "labelFontSize": 11.5, "labelFontWeight": "bold", "labelColor": "black", "symbolStrokeWidth": 1.5, "rowPadding": 5, "labelOffset": 12}},
  "shape": {"field": "s", "type": "nominal", "scale": {"domain": ["DMSO", "Cmpd-6", "GsHet", "GsHet+Cmpd-6"], "range": ["circle", "diamond", "triangle-up", "square"]}, "legend": {"orient": "none", "legendX": 178, "legendY": 42, "title": null, "padding": 0, "labelFontSize": 11.5, "labelFontWeight": "bold", "labelColor": "black", "symbolStrokeWidth": 1.5, "rowPadding": 5, "labelOffset": 12}},
  "size": {"field": "s", "type": "nominal", "scale": {"domain": ["DMSO", "Cmpd-6", "GsHet", "GsHet+Cmpd-6"], "range": [80, 70, 115, 145]}, "legend": {"orient": "none", "legendX": 178, "legendY": 42, "title": null, "padding": 0, "labelFontSize": 11.5, "labelFontWeight": "bold", "labelColor": "black", "symbolStrokeWidth": 1.5, "rowPadding": 5, "labelOffset": 12}}}}
]
},
{
"width": 275, "height": 207,
"title": {"text": "(iv)", "offset": -14, "dx": -6},
"layer": [
{"data": {"values": [{"h": 0}, {"h": 100}]}, "mark": {"type": "rule", "strokeDash": [4, 3], "strokeWidth": 1, "color": "black"},
 "encoding": {"x": {"datum": -14.33, "type": "quantitative"}, "x2": {"datum": -5}, "y": {"field": "h", "type": "quantitative"}}},
{"data": {"name": "curves"}, "transform": [{"filter": "datum.p == 'iv'"}], "mark": {"type": "line", "interpolate": "monotone", "strokeWidth": 1.8},
 "encoding": {"x": {"field": "x", "type": "quantitative"}, "y": {"field": "y", "type": "quantitative"},
  "color": {"field": "s", "type": "nominal", "scale": {"domain": ["DMSO", "Cmpd-6", "GsHet", "GsHet+Cmpd-6"], "range": ["#000000", "#ff0000", "#1e8c3c", "#1c1cff"]}}}},
{"data": {"name": "pts"}, "transform": [{"filter": "datum.p == 'iv' && isValid(datum.lo)"}], "mark": {"type": "rule", "strokeWidth": 1.5},
 "encoding": {"x": {"field": "x", "type": "quantitative"}, "y": {"field": "lo", "type": "quantitative"}, "y2": {"field": "hi"}, "color": {"field": "s", "type": "nominal"}}},
{"data": {"name": "pts"}, "transform": [{"filter": "datum.p == 'iv' && isValid(datum.lo)"}], "mark": {"type": "tick", "orient": "horizontal", "size": 10, "thickness": 0.1, "strokeWidth": 1.5, "filled": false, "opacity": 1},
 "encoding": {"x": {"field": "x", "type": "quantitative"}, "y": {"field": "lo", "type": "quantitative"}, "color": {"field": "s", "type": "nominal"}}},
{"data": {"name": "pts"}, "transform": [{"filter": "datum.p == 'iv' && isValid(datum.lo)"}], "mark": {"type": "tick", "orient": "horizontal", "size": 10, "thickness": 0.1, "strokeWidth": 1.5, "filled": false, "opacity": 1},
 "encoding": {"x": {"field": "x", "type": "quantitative"}, "y": {"field": "hi", "type": "quantitative"}, "color": {"field": "s", "type": "nominal"}}},
{"data": {"name": "pts"}, "transform": [{"filter": "datum.p == 'iv'"}], "mark": {"type": "point", "strokeWidth": 1.5, "opacity": 1, "filled": false},
 "encoding": {
  "x": {"field": "x", "type": "quantitative", "scale": {"domain": [-14, -5], "range": [19, 275], "nice": false, "zero": false}, "axis": {"values": [-14, -13, -12, -11, -10, -9, -8, -7, -6, -5], "labelExpr": "'' + datum.value", "title": "Log [Carazolol], M", "offset": 9, "labelFlush": false, "labelOverlap": false, "labelPadding": 4, "titlePadding": 2}},
  "y": {"field": "y", "type": "quantitative", "scale": {"domain": [-5, 125], "nice": false, "zero": false}, "axis": {"values": [0, 25, 50, 75, 100, 125], "offset": -9, "title": ["¹²⁵I-[CYP] bound", "(Normalized)"], "titleLineHeight": 17, "titlePadding": 2}},
  "color": {"field": "s", "type": "nominal", "scale": {"domain": ["DMSO", "Cmpd-6", "GsHet", "GsHet+Cmpd-6"], "range": ["#000000", "#ff0000", "#1e8c3c", "#1c1cff"]}, "legend": {"orient": "none", "legendX": 160, "legendY": 42, "title": null, "padding": 0, "labelFontSize": 11.5, "labelFontWeight": "bold", "labelColor": "black", "symbolStrokeWidth": 1.5, "rowPadding": 5, "labelOffset": 12}},
  "fill": {"field": "s", "type": "nominal", "scale": {"domain": ["DMSO", "Cmpd-6", "GsHet", "GsHet+Cmpd-6"], "range": ["#000000", "#ff0000", "transparent", "transparent"]}, "legend": {"orient": "none", "legendX": 160, "legendY": 42, "title": null, "padding": 0, "labelFontSize": 11.5, "labelFontWeight": "bold", "labelColor": "black", "symbolStrokeWidth": 1.5, "rowPadding": 5, "labelOffset": 12}},
  "shape": {"field": "s", "type": "nominal", "scale": {"domain": ["DMSO", "Cmpd-6", "GsHet", "GsHet+Cmpd-6"], "range": ["circle", "diamond", "triangle-up", "square"]}, "legend": {"orient": "none", "legendX": 160, "legendY": 42, "title": null, "padding": 0, "labelFontSize": 11.5, "labelFontWeight": "bold", "labelColor": "black", "symbolStrokeWidth": 1.5, "rowPadding": 5, "labelOffset": 12}},
  "size": {"field": "s", "type": "nominal", "scale": {"domain": ["DMSO", "Cmpd-6", "GsHet", "GsHet+Cmpd-6"], "range": [80, 70, 115, 145]}, "legend": {"orient": "none", "legendX": 160, "legendY": 42, "title": null, "padding": 0, "labelFontSize": 11.5, "labelFontWeight": "bold", "labelColor": "black", "symbolStrokeWidth": 1.5, "rowPadding": 5, "labelOffset": 12}}}}
]
}
]
}
]
},
{
"spacing": 23,
"resolve": {"scale": {"color": "independent", "stroke": "independent", "fill": "independent", "shape": "independent", "size": "independent"}},
"hconcat": [
{
"width": 140, "height": 181,
"title": {"text": "B", "offset": -13, "dx": -18, "fontSize": 22},
"layer": [
{"data": {"name": "bbar"}, "transform": [{"filter": "datum.p == 'L'"}], "mark": {"type": "bar", "stroke": "black", "strokeWidth": 1},
 "encoding": {
  "x": {"field": "c", "type": "nominal", "scale": {"domain": ["Gs", "βarr1", "Cmpd-6", "Cmpd-6+Gs", "Cmpd-6+βarr1"], "paddingInner": 0.37, "paddingOuter": 0.15}, "axis": {"title": null, "labelAngle": -45, "labelFontSize": 13.5, "domainWidth": 1.5, "tickWidth": 1.5, "labelPadding": 3}},
  "y": {"field": "v", "type": "quantitative", "scale": {"domain": [-0.25, 1.2], "range": [181, 39], "nice": false, "zero": false}, "axis": {"values": [0, 0.3, 0.6, 0.9, 1.2], "format": ".1f", "title": "LogK-Shift (CARV)", "titleFontSize": 13.5, "labelFontSize": 13.5, "domainWidth": 1.5, "tickWidth": 1.5, "titlePadding": 4}},
  "y2": {"datum": 0},
  "fill": {"field": "c", "type": "nominal", "scale": {"domain": ["Gs", "βarr1", "Cmpd-6", "Cmpd-6+Gs", "Cmpd-6+βarr1"], "range": ["#858585", "#a8a8a8", "#bdbdbd", "#e8e8e8", "#666666"]}, "legend": null}}},
{"data": {"values": [{}]}, "mark": {"type": "rule", "color": "black", "strokeWidth": 1.5}, "encoding": {"y": {"datum": 0, "type": "quantitative"}}},
{"data": {"name": "bdots"}, "transform": [{"filter": "datum.p == 'L'"}], "mark": {"type": "point", "shape": "circle", "fill": "white", "stroke": "black", "strokeWidth": 1.3, "size": 55, "opacity": 1, "filled": false},
 "encoding": {"x": {"field": "c", "type": "nominal"}, "xOffset": {"field": "k", "type": "nominal", "scale": {"domain": [1, 2, 3], "paddingInner": 0, "paddingOuter": 0}}, "y": {"field": "v", "type": "quantitative"}}},
{"data": {"name": "bbar"}, "transform": [{"filter": "datum.p == 'L'"}], "mark": {"type": "rule", "color": "black", "strokeWidth": 1.3},
 "encoding": {"x": {"field": "c", "type": "nominal"}, "y": {"field": "lo", "type": "quantitative"}, "y2": {"field": "hi"}}},
{"data": {"name": "bbar"}, "transform": [{"filter": "datum.p == 'L'"}], "mark": {"type": "tick", "color": "black", "thickness": 1.3, "size": 8, "opacity": 1},
 "encoding": {"x": {"field": "c", "type": "nominal"}, "y": {"field": "lo", "type": "quantitative"}}},
{"data": {"name": "bbar"}, "transform": [{"filter": "datum.p == 'L'"}], "mark": {"type": "tick", "color": "black", "thickness": 1.3, "size": 8, "opacity": 1},
 "encoding": {"x": {"field": "c", "type": "nominal"}, "y": {"field": "hi", "type": "quantitative"}}},
{"data": {"name": "sig"}, "transform": [{"filter": "datum.q == 'L'"}], "mark": {"type": "rule", "color": "black", "strokeWidth": 1},
 "encoding": {"x": {"field": "x", "type": "nominal"}, "x2": {"field": "x2"}, "y": {"field": "y", "type": "quantitative"}, "y2": {"field": "y2"}}},
{"data": {"name": "sigt"}, "transform": [{"filter": "datum.q == 'L' && datum.w == 'mid'"}], "mark": {"type": "text", "fontSize": 11.5, "fontWeight": "normal", "baseline": "alphabetic"},
 "encoding": {"x": {"field": "x", "type": "nominal", "bandPosition": 1.294}, "y": {"field": "y", "type": "quantitative"}, "text": {"field": "t"}}},
{"data": {"name": "sigt"}, "transform": [{"filter": "datum.q == 'L' && datum.w == 'ctr'"}], "mark": {"type": "text", "fontSize": 15, "fontWeight": "bold", "baseline": "alphabetic"},
 "encoding": {"x": {"field": "x", "type": "nominal"}, "y": {"field": "y", "type": "quantitative"}, "text": {"field": "t"}}}
]
},
{
"width": 145, "height": 181,
"layer": [
{"data": {"name": "bbar"}, "transform": [{"filter": "datum.p == 'R'"}], "mark": {"type": "bar", "stroke": "black", "strokeWidth": 1},
 "encoding": {
  "x": {"field": "c", "type": "nominal", "scale": {"domain": ["Gs", "βarr1", "Cmpd-6", "Cmpd-6+Gs", "Cmpd-6+βarr1"], "paddingInner": 0.37, "paddingOuter": 0.2}, "axis": {"title": null, "labelAngle": -45, "labelFontSize": 13.5, "domainWidth": 1.5, "tickWidth": 1.5, "labelPadding": 3}},
  "y": {"field": "v", "type": "quantitative", "scale": {"domain": [-0.25, 1.2], "range": [181, 39], "nice": false, "zero": false}, "axis": {"values": [0, 0.3, 0.6, 0.9, 1.2], "format": ".1f", "title": "LogK-Shift (CARZ)", "titleFontSize": 13.5, "labelFontSize": 13.5, "domainWidth": 1.5, "tickWidth": 1.5, "titlePadding": 4}},
  "y2": {"datum": 0},
  "fill": {"field": "c", "type": "nominal", "scale": {"domain": ["Gs", "βarr1", "Cmpd-6", "Cmpd-6+Gs", "Cmpd-6+βarr1"], "range": ["#858585", "#a8a8a8", "#bdbdbd", "#e8e8e8", "#999999"]}, "legend": null}}},
{"data": {"values": [{}]}, "mark": {"type": "rule", "color": "black", "strokeWidth": 1.5}, "encoding": {"y": {"datum": 0, "type": "quantitative"}}},
{"data": {"name": "bdots"}, "transform": [{"filter": "datum.p == 'R'"}], "mark": {"type": "point", "shape": "circle", "fill": "white", "stroke": "black", "strokeWidth": 1.3, "size": 55, "opacity": 1, "filled": false},
 "encoding": {"x": {"field": "c", "type": "nominal"}, "xOffset": {"field": "k", "type": "nominal", "scale": {"domain": [1, 2, 3], "paddingInner": 0, "paddingOuter": 0}}, "y": {"field": "v", "type": "quantitative"}}},
{"data": {"name": "bbar"}, "transform": [{"filter": "datum.p == 'R'"}], "mark": {"type": "rule", "color": "black", "strokeWidth": 1.3},
 "encoding": {"x": {"field": "c", "type": "nominal"}, "y": {"field": "lo", "type": "quantitative"}, "y2": {"field": "hi"}}},
{"data": {"name": "bbar"}, "transform": [{"filter": "datum.p == 'R'"}], "mark": {"type": "tick", "color": "black", "thickness": 1.3, "size": 8, "opacity": 1},
 "encoding": {"x": {"field": "c", "type": "nominal"}, "y": {"field": "lo", "type": "quantitative"}}},
{"data": {"name": "bbar"}, "transform": [{"filter": "datum.p == 'R'"}], "mark": {"type": "tick", "color": "black", "thickness": 1.3, "size": 8, "opacity": 1},
 "encoding": {"x": {"field": "c", "type": "nominal"}, "y": {"field": "hi", "type": "quantitative"}}},
{"data": {"name": "sig"}, "transform": [{"filter": "datum.q == 'R'"}], "mark": {"type": "rule", "color": "black", "strokeWidth": 1},
 "encoding": {"x": {"field": "x", "type": "nominal"}, "x2": {"field": "x2"}, "y": {"field": "y", "type": "quantitative"}, "y2": {"field": "y2"}}},
{"data": {"name": "sigt"}, "transform": [{"filter": "datum.q == 'R' && datum.w == 'mid'"}], "mark": {"type": "text", "fontSize": 11.5, "fontWeight": "normal", "baseline": "alphabetic"},
 "encoding": {"x": {"field": "x", "type": "nominal", "bandPosition": 1.294}, "y": {"field": "y", "type": "quantitative"}, "text": {"field": "t"}}},
{"data": {"name": "sigt"}, "transform": [{"filter": "datum.q == 'R' && datum.w == 'ctr'"}], "mark": {"type": "text", "fontSize": 11.5, "fontWeight": "normal", "baseline": "alphabetic"},
 "encoding": {"x": {"field": "x", "type": "nominal"}, "y": {"field": "y", "type": "quantitative"}, "text": {"field": "t"}}}
]
},
{
"width": 230, "height": 205,
"title": {"text": "C", "offset": -17, "dx": -9, "fontSize": 22},
"layer": [
{"data": {"name": "cbar"}, "mark": {"type": "bar", "stroke": "#2b2b2b", "strokeWidth": 1},
 "encoding": {
  "x": {"field": "c", "type": "nominal", "scale": {"domain": ["Con|D", "βarr1|D", "GsHet|D", "gap", "Con|C", "βarr1|C", "GsHet|C"], "paddingInner": 0.33, "paddingOuter": 0.14}, "axis": {"title": null, "labelAngle": -45, "labelFontSize": 14, "domainWidth": 1.5, "tickWidth": 1.5, "labelPadding": 3, "labelExpr": "datum.value == 'gap' ? '' : split(datum.value, '|')[0]", "tickColor": {"condition": {"test": "datum.value == 'gap'", "value": "transparent"}, "value": "black"}}},
  "y": {"field": "v", "type": "quantitative", "scale": {"domain": [0, 60], "nice": false}, "axis": {"values": [0, 15, 30, 45, 60], "title": "³H-Carv Bound (fmol)", "titleFontSize": 16, "labelFontSize": 13.5, "domainWidth": 1.5, "tickWidth": 1.5, "labelPadding": 1, "titlePadding": 1}},
  "fill": {"field": "g", "type": "nominal", "scale": {"domain": ["DMSO", "Cmpd-6"], "range": ["#6b6b6b", "#d46a0a"]}, "legend": null}}},
{"data": {"name": "cdots"}, "mark": {"type": "point", "shape": "circle", "fill": "white", "stroke": "black", "strokeWidth": 1.3, "size": 100, "opacity": 1, "filled": false},
 "encoding": {"x": {"field": "c", "type": "nominal"}, "xOffset": {"field": "k", "type": "nominal", "scale": {"domain": [1, 2, 3, 4], "paddingInner": 0, "paddingOuter": 0}}, "y": {"field": "v", "type": "quantitative"}}},
{"data": {"name": "cbar"}, "mark": {"type": "rule", "color": "black", "strokeWidth": 1.3},
 "encoding": {"x": {"field": "c", "type": "nominal"}, "y": {"field": "lo", "type": "quantitative"}, "y2": {"field": "hi"}}},
{"data": {"name": "cbar"}, "mark": {"type": "tick", "color": "black", "thickness": 1.3, "size": 10, "opacity": 1},
 "encoding": {"x": {"field": "c", "type": "nominal"}, "y": {"field": "lo", "type": "quantitative"}}},
{"data": {"name": "cbar"}, "mark": {"type": "tick", "color": "black", "thickness": 1.3, "size": 10, "opacity": 1},
 "encoding": {"x": {"field": "c", "type": "nominal"}, "y": {"field": "hi", "type": "quantitative"}}},
{"data": {"name": "sig"}, "transform": [{"filter": "datum.q == 'C'"}], "mark": {"type": "rule", "color": "black", "strokeWidth": 1},
 "encoding": {"x": {"field": "x", "type": "nominal"}, "x2": {"field": "x2"}, "y": {"field": "y", "type": "quantitative"}, "y2": {"field": "y2"}}},
{"data": {"name": "sigt"}, "transform": [{"filter": "datum.q == 'C' && datum.w == 'mid'"}], "mark": {"type": "text", "fontSize": 14, "fontWeight": "bold", "baseline": "alphabetic"},
 "encoding": {"x": {"field": "x", "type": "nominal", "bandPosition": 1.246}, "y": {"field": "y", "type": "quantitative"}, "text": {"field": "t"}}},
{"data": {"name": "sigt"}, "transform": [{"filter": "datum.q == 'C' && datum.w == 'ctr'"}], "mark": {"type": "text", "fontSize": 14, "fontWeight": "bold", "baseline": "alphabetic"},
 "encoding": {"x": {"field": "x", "type": "nominal"}, "y": {"field": "y", "type": "quantitative"}, "text": {"field": "t"}}},
{"data": {"name": "grp"}, "mark": {"type": "rule", "color": "black", "strokeWidth": 1.5},
 "encoding": {"x": {"field": "a", "type": "nominal", "bandPosition": 0}, "x2": {"field": "b", "bandPosition": 1}, "y": {"datum": -13.7, "type": "quantitative"}}},
{"data": {"name": "grp"}, "mark": {"type": "rule", "color": "black", "strokeWidth": 1.5},
 "encoding": {"x": {"field": "a", "type": "nominal", "bandPosition": 0}, "y": {"datum": -12.5, "type": "quantitative"}, "y2": {"datum": -14.9}}},
{"data": {"name": "grp"}, "mark": {"type": "rule", "color": "black", "strokeWidth": 1.5},
 "encoding": {"x": {"field": "b", "type": "nominal", "bandPosition": 1}, "y": {"datum": -12.5, "type": "quantitative"}, "y2": {"datum": -14.9}}},
{"data": {"name": "grp"}, "mark": {"type": "text", "fontSize": 13, "fontWeight": "bold", "baseline": "middle"},
 "encoding": {"x": {"field": "m", "type": "nominal"}, "y": {"datum": -16.9, "type": "quantitative"}, "text": {"field": "g"}}}
]
}
]
}
],
"config": {
 "font": "Liberation Sans",
 "view": {"stroke": null},
 "axis": {"grid": false, "domainColor": "black", "tickColor": "black", "labelColor": "black", "titleColor": "black", "labelFontWeight": "bold", "titleFontWeight": "bold", "domainWidth": 1.8, "tickWidth": 1.8, "tickSize": 5, "labelFontSize": 13.5, "titleFontSize": 15, "labelFont": "Liberation Sans", "titleFont": "Liberation Sans", "labelPadding": 3, "titlePadding": 3, "labelOverlap": false, "labelSeparation": 0},
 "title": {"anchor": "start", "frame": "bounds", "fontWeight": "bold", "fontSize": 21, "color": "black", "font": "Liberation Sans"},
 "legend": {"labelFont": "Liberation Sans"},
 "text": {"font": "Liberation Sans", "color": "black"}
}
}
